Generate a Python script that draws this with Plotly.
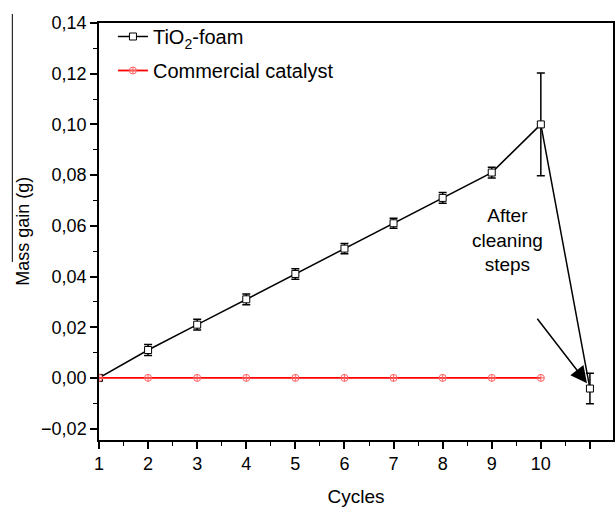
import plotly.graph_objects as go

cycles = [1, 2, 3, 4, 5, 6, 7, 8, 9, 10, 11]
tio2_gain = [0.0, 0.011, 0.021, 0.031, 0.041, 0.051, 0.061, 0.071, 0.081, 0.100, -0.0042]
tio2_err = [0.0, 0.0022, 0.0021, 0.0021, 0.0021, 0.0020, 0.0020, 0.0021, 0.0021, 0.0203, 0.0060]
comm_cycles = [1, 2, 3, 4, 5, 6, 7, 8, 9, 10]
comm_gain = [0.0, 0.0, 0.0, 0.0, 0.0, 0.0, 0.0, 0.0, 0.0, 0.0]
xtick_vals = [1, 2, 3, 4, 5, 6, 7, 8, 9, 10, 11]
xtick_text = ["1", "2", "3", "4", "5", "6", "7", "8", "9", "10", ""]
ytick_vals = [-0.02, 0.0, 0.02, 0.04, 0.06, 0.08, 0.10, 0.12, 0.14]

FONT = "Liberation Sans, Arial, sans-serif"
W, H = 616, 507
L, R, T, B = 99, 1, 23, 67
PW, PH = W - L - R, H - T - B

def px_x(p):
    return (p - L) / PW

def px_y(p):
    return (H - B - p) / PH

fig = go.Figure()
fig.add_trace(go.Scatter(
    x=cycles, y=tio2_gain, mode="lines+markers", name="TiO<sub>2</sub>-foam",
    legendgroup="a",
    line=dict(color="black", width=1.5),
    marker=dict(symbol="square", size=7, color="white", line=dict(color="black", width=1)),
    error_y=dict(type="data", array=tio2_err, visible=True, color="black", thickness=1.5, width=4),
))
fig.add_trace(go.Scatter(
    x=comm_cycles, y=comm_gain, mode="lines+markers", name="Commercial catalyst",
    legendgroup="b",
    line=dict(color="red", width=1.8),
    marker=dict(symbol="circle-cross-open", size=7, color="#ff6060", line=dict(width=1)),
))

fig.add_annotation(x=9.33, y=0.0545, xref="x", yref="y", text="After<br>cleaning<br>steps",
                   showarrow=False, font=dict(family=FONT, size=19, color="black"), align="center")
fig.add_annotation(x=10.94, y=-0.0021, ax=9.905, ay=0.0239, xref="x", yref="y",
                   axref="x", ayref="y", text="", showarrow=True,
                   arrowhead=2, arrowsize=2.2, arrowwidth=1.5, arrowcolor="black")

# y-axis title placed explicitly
fig.add_annotation(x=px_x(22), y=0.5, xref="paper", yref="paper", text="Mass gain (g)",
                   textangle=-90, showarrow=False, xanchor="center", yanchor="middle",
                   font=dict(family=FONT, size=18, color="black"))

# stray vertical line at left edge of the original figure
fig.add_shape(type="line", xref="paper", yref="paper",
              x0=px_x(12), x1=px_x(12), y0=px_y(14), y1=px_y(262),
              line=dict(color="black", width=1))

fig.update_layout(
    width=W, height=H,
    margin=dict(l=L, r=R, t=T, b=B),
    paper_bgcolor="white", plot_bgcolor="white",
    separators=", ",
    font=dict(family=FONT, size=18, color="black"),
    showlegend=True,
    legend=dict(x=px_x(113), y=px_y(17), xanchor="left", yanchor="top", traceorder="grouped",
                bgcolor="rgba(0,0,0,0)", font=dict(family=FONT, size=20),
                tracegroupgap=5),
    xaxis=dict(
        range=[1, 11.47], tickvals=xtick_vals, ticktext=xtick_text,
        ticks="outside", ticklen=7, tickwidth=1.5, tickcolor="black",
        showline=True, linecolor="black", linewidth=1.5, mirror=True,
        showgrid=False, zeroline=False,
        minor=dict(tick0=1, dtick=0.5, ticks="outside", ticklen=4, tickwidth=1.2, tickcolor="black", showgrid=False),
        title=dict(text="Cycles", font=dict(size=19), standoff=18),
        tickfont=dict(size=18),
    ),
    yaxis=dict(
        range=[-0.0245, 0.14], tickvals=ytick_vals, tickformat=".2f",
        ticks="outside", ticklen=7, tickwidth=1.5, tickcolor="black",
        showline=True, linecolor="black", linewidth=1.5, mirror=True,
        showgrid=False, zeroline=False,
        minor=dict(dtick=0.01, tick0=0, ticks="outside", ticklen=4, tickwidth=1.2, tickcolor="black", showgrid=False),
        tickfont=dict(size=18),
    ),
)

fig.write_html("out.html")
